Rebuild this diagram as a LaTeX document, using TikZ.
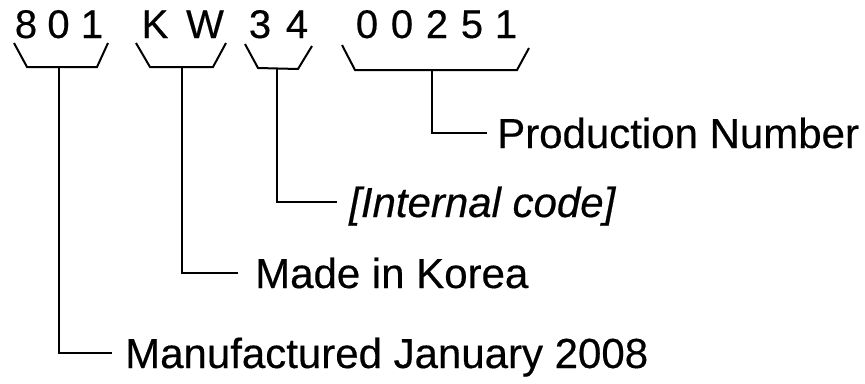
\documentclass[tikz,border=0pt]{standalone}
\usepackage{fontspec}
\setmainfont{Liberation Sans}
\begin{document}
\begin{tikzpicture}[x=1pt,y=-1pt,
  chr/.style={anchor=base,inner sep=0pt,font=\fontsize{40}{44}\selectfont\addfontfeature{FakeBold=0.4}},
  lab/.style={anchor=base west,inner sep=0pt,font=\fontsize{42}{48}\selectfont\addfontfeature{FakeBold=0.4}},
  ln/.style={line width=2pt,line join=miter}]
\useasboundingbox (0,0) rectangle (865,383);
% top characters
\foreach \c/\x [count=\i] in {8/26,0/58.5,1/92,K/155,W/205,3/260,4/297,0/367,0/402,2/437,5/472,1/506}
  \node[chr] (ch\i) at (\x,38) {\c};
% brackets
\draw[ln] (14,43) -- (27,67) -- (97,67) -- (108,43);
\draw[ln] (136,43) -- (150,67) -- (213,67) -- (226,43);
\draw[ln] (245,44) -- (258,68) -- (298,69) -- (312,46);
\draw[ln] (342,45) -- (355,70) -- (517,70) -- (529,48);
\coordinate (b1) at (59,67);
\coordinate (b2) at (182,67);
\coordinate (b3) at (277,68.5);
\coordinate (b4) at (432,70);
% labels
\node[lab] (l4) at (497,148) {Production Number};
\node[lab] (l3) at (349,217) {\itshape\addfontfeature{FakeBold=0.4} [Internal code]};
\node[lab] (l2) at (255,288) {Made in Korea};
\node[lab] (l1) at (125,368) {Manufactured January 2008};
\coordinate (e4) at (487,133);
\coordinate (e3) at (337,202);
\coordinate (e2) at (238,273);
\coordinate (e1) at (112,353);
\draw[ln] (b4) |- (e4);
\draw[ln] (b3) |- (e3);
\draw[ln] (b2) |- (e2);
\draw[ln] (b1) |- (e1);
\end{tikzpicture}
\end{document}
